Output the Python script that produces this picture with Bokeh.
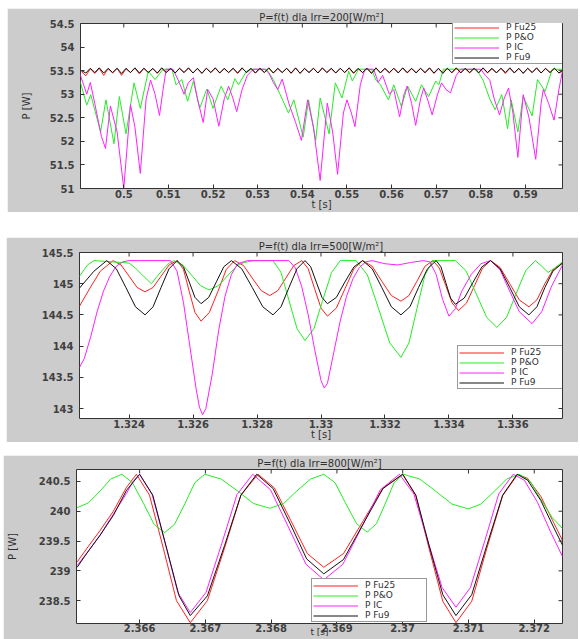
from bokeh.plotting import figure
from bokeh.models import Range1d, FixedTicker, Legend, LegendItem, Spacer
from bokeh.layouts import column
from bokeh.embed import file_html
from bokeh.resources import INLINE
import numpy as np

# ---------------- Panel 1 : Irr = 200 W/m2 ----------------
p1_title = "P=f(t) dla Irr=200[W/m\u00b2]"
p1_xticks = [0.5, 0.51, 0.52, 0.53, 0.54, 0.55, 0.56, 0.57, 0.58, 0.59]
p1_xlabels = ["0.5", "0.51", "0.52", "0.53", "0.54", "0.55", "0.56", "0.57", "0.58", "0.59"]
p1_yticks = [51, 51.5, 52, 52.5, 53, 53.5, 54, 54.5]
p1_ylabels = ["51", "51.5", "52", "52.5", "53", "53.5", "54", "54.5"]
p1_xlim = (0.4903, 0.5983)
p1_ylim = (51.0, 54.5)

# ripple sampling instants (every 1 ms starting at 0.4905 s)
p1_fu9 = [53.50, 53.45, 53.55, 53.46, 53.56, 53.45, 53.55, 53.46, 53.55, 53.44,
          53.55, 53.46, 53.56, 53.45, 53.55, 53.46, 53.55, 53.45, 53.56, 53.46,
          53.55, 53.45, 53.55, 53.46, 53.56, 53.45, 53.55, 53.44, 53.55, 53.46,
          53.56, 53.45, 53.55, 53.46, 53.55, 53.45, 53.56, 53.46, 53.55, 53.45,
          53.55, 53.46, 53.56, 53.45, 53.55, 53.46, 53.55, 53.45, 53.56, 53.44,
          53.55, 53.46, 53.55, 53.45, 53.56, 53.46, 53.55, 53.45, 53.55, 53.46,
          53.56, 53.45, 53.55, 53.46, 53.55, 53.44, 53.56, 53.45, 53.55, 53.46,
          53.55, 53.45, 53.56, 53.46, 53.55, 53.45, 53.55, 53.46, 53.56, 53.45,
          53.55, 53.44, 53.55, 53.46, 53.56, 53.45, 53.55, 53.46, 53.55, 53.45,
          53.56, 53.46, 53.55, 53.45, 53.55, 53.46, 53.56, 53.45, 53.55, 53.44,
          53.55, 53.46, 53.56, 53.45, 53.55, 53.46, 53.55, 53.45, 53.52]
p1_fu25 = [53.48, 53.39, 53.54, 53.44, 53.55, 53.40, 53.54, 53.45, 53.55, 53.40,
           53.54, 53.46, 53.55, 53.43, 53.55, 53.46, 53.54, 53.44, 53.55, 53.46,
           53.54, 53.45, 53.55, 53.46, 53.55, 53.45, 53.54, 53.45, 53.55, 53.46,
           53.55, 53.45, 53.54, 53.46, 53.55, 53.44, 53.55, 53.46, 53.54, 53.45,
           53.55, 53.46, 53.55, 53.45, 53.54, 53.46, 53.55, 53.44, 53.55, 53.45,
           53.54, 53.46, 53.55, 53.45, 53.55, 53.46, 53.54, 53.45, 53.55, 53.46,
           53.55, 53.44, 53.54, 53.46, 53.55, 53.45, 53.55, 53.46, 53.54, 53.45,
           53.55, 53.46, 53.55, 53.45, 53.54, 53.46, 53.55, 53.45, 53.55, 53.44,
           53.54, 53.46, 53.55, 53.45, 53.55, 53.46, 53.54, 53.45, 53.55, 53.46,
           53.55, 53.45, 53.54, 53.46, 53.55, 53.44, 53.55, 53.46, 53.54, 53.45,
           53.55, 53.46, 53.55, 53.45, 53.54, 53.46, 53.55, 53.45, 53.50]
p1_t_ripple = np.linspace(0.4905, 0.4905 + 0.001 * (len(p1_fu9) - 1), len(p1_fu9))

p1_po_t = [0.4901, 0.4917, 0.4926, 0.4948, 0.4960, 0.4978, 0.4990, 0.5005, 0.5023, 0.5037,
           0.5055, 0.5070, 0.5088, 0.5108, 0.5117, 0.5130, 0.5143, 0.5156, 0.5170, 0.5186,
           0.5200, 0.5218, 0.5233, 0.5249, 0.5257, 0.5275, 0.5285, 0.5320, 0.5335, 0.5350,
           0.5369, 0.5381, 0.5402, 0.5414, 0.5430, 0.5440, 0.5460, 0.5474, 0.5489, 0.5504,
           0.5512, 0.5526, 0.5555, 0.5565, 0.5575, 0.5593, 0.5605, 0.5622, 0.5636, 0.5654,
           0.5667, 0.5683, 0.5699, 0.5706, 0.5716, 0.5790, 0.5805, 0.5820, 0.5832, 0.5847,
           0.5860, 0.5868, 0.5883, 0.5895, 0.5915, 0.5927, 0.5944, 0.5960, 0.5983]
p1_po = [53.31, 52.77, 52.99, 52.20, 52.88, 51.95, 52.95, 52.16, 53.24, 52.70,
         53.49, 53.31, 53.53, 53.53, 53.20, 53.31, 52.85, 53.28, 52.70, 53.11,
         52.70, 53.17, 52.88, 53.33, 53.20, 53.49, 53.53, 53.53, 53.31, 53.00,
         52.60, 52.88, 52.09, 52.88, 52.02, 52.92, 52.16, 53.24, 52.92, 53.49,
         53.28, 53.53, 53.53, 53.30, 53.20, 52.88, 53.20, 52.74, 53.17, 52.85,
         53.20, 52.95, 53.28, 53.20, 53.53, 53.53, 53.30, 52.90, 52.67, 52.99,
         52.27, 52.88, 52.20, 52.95, 52.54, 53.31, 53.06, 53.53, 53.53]

p1_ic_t = [0.4901, 0.4910, 0.4917, 0.4925, 0.4935, 0.4950, 0.4959, 0.4970, 0.4985, 0.5000,
           0.5015, 0.5025, 0.5037, 0.5050, 0.5060, 0.5070, 0.5080, 0.5088, 0.5095, 0.5110,
           0.5122, 0.5135, 0.5145, 0.5156, 0.5165, 0.5178, 0.5188, 0.5200, 0.5213, 0.5225,
           0.5235, 0.5245, 0.5253, 0.5265, 0.5277, 0.5290, 0.5315, 0.5325, 0.5335, 0.5345,
           0.5355, 0.5370, 0.5385, 0.5398, 0.5412, 0.5425, 0.5440, 0.5456, 0.5468, 0.5479,
           0.5492, 0.5500, 0.5510, 0.5518, 0.5530, 0.5540, 0.5560, 0.5570, 0.5580, 0.5595,
           0.5605, 0.5618, 0.5628, 0.5635, 0.5645, 0.5654, 0.5665, 0.5672, 0.5682, 0.5691,
           0.5703, 0.5712, 0.5722, 0.5732, 0.5745, 0.5755, 0.5800, 0.5810, 0.5820, 0.5830,
           0.5842, 0.5852, 0.5862, 0.5872, 0.5883, 0.5895, 0.5908, 0.5923, 0.5935, 0.5940,
           0.5952, 0.5964, 0.5975, 0.5983]
p1_ic = [53.45, 53.20, 53.00, 53.25, 52.80, 52.10, 51.85, 52.75, 52.20, 51.00,
         52.78, 52.30, 51.32, 52.90, 53.30, 53.00, 52.55, 53.10, 53.53, 53.53,
         53.30, 53.00, 53.25, 53.35, 52.90, 52.40, 53.10, 52.90, 52.32, 52.90,
         53.17, 52.90, 52.63, 53.10, 53.40, 53.53, 53.53, 53.45, 53.25, 53.10,
         53.32, 52.80, 52.40, 52.02, 52.88, 52.30, 51.17, 52.81, 52.20, 51.30,
         52.60, 52.88, 52.60, 52.31, 53.20, 53.53, 53.53, 53.25, 53.40, 53.00,
         53.10, 52.52, 53.00, 53.17, 52.80, 52.34, 52.90, 53.13, 52.85, 52.56,
         53.00, 53.24, 53.10, 53.03, 53.40, 53.53, 53.53, 53.40, 53.30, 52.90,
         52.56, 52.90, 53.13, 52.60, 51.66, 52.99, 52.50, 51.62, 52.80, 53.10,
         52.80, 52.45, 53.10, 53.50]

# ---------------- Panel 2 : Irr = 500 W/m2 ----------------
p2_title = "P=f(t) dla Irr=500[W/m\u00b2]"
p2_xticks = [1.324, 1.326, 1.328, 1.33, 1.332, 1.334, 1.336]
p2_xlabels = ["1.324", "1.326", "1.328", "1.33", "1.332", "1.334", "1.336"]
p2_yticks = [143, 143.5, 144, 144.5, 145, 145.5]
p2_ylabels = ["143", "143.5", "144", "144.5", "145", "145.5"]
p2_xlim = (1.32245, 1.33755)
p2_ylim = (142.84, 145.5)

p2_fu9_t = [1.32245, 1.3229, 1.3233, 1.3236, 1.3239, 1.3242, 1.3245, 1.32475, 1.3250, 1.32525,
            1.3255, 1.3257, 1.32588, 1.32606, 1.32625, 1.32649, 1.32673, 1.32696, 1.3272, 1.32752,
            1.32785, 1.32818, 1.3285, 1.32875, 1.3290, 1.32925, 1.3295, 1.32968, 1.32985, 1.33003,
            1.3302, 1.33048, 1.33075, 1.33103, 1.3313, 1.3316, 1.3319, 1.3322, 1.3325, 1.33278,
            1.33305, 1.33333, 1.3336, 1.33375, 1.3339, 1.33405, 1.3342, 1.33448, 1.33475, 1.33503,
            1.3353, 1.3356, 1.3359, 1.3362, 1.3365, 1.33675, 1.3370, 1.33725, 1.33755]
p2_fu9 = [144.93, 145.20, 145.37, 145.24, 144.94, 144.63, 144.50, 144.63, 144.94, 145.24,
          145.37, 145.27, 145.03, 144.78, 144.68, 144.78, 145.03, 145.27, 145.37, 145.24,
          144.94, 144.63, 144.50, 144.63, 144.94, 145.24, 145.37, 145.27, 145.03, 144.78,
          144.68, 144.78, 145.03, 145.27, 145.37, 145.24, 144.94, 144.63, 144.50, 144.63,
          144.94, 145.24, 145.37, 145.27, 145.02, 144.77, 144.67, 144.77, 145.02, 145.27,
          145.37, 145.24, 144.94, 144.63, 144.50, 144.63, 144.94, 145.20, 145.33]

p2_fu25_t = [1.32245, 1.3228, 1.3231, 1.3235, 1.32375, 1.3240, 1.32425, 1.3245, 1.32475, 1.3250,
             1.32525, 1.3255, 1.3257, 1.32588, 1.32606, 1.32625, 1.32651, 1.32678, 1.32704, 1.3273,
             1.32758, 1.32785, 1.32813, 1.3284, 1.32865, 1.3289, 1.32915, 1.3294, 1.3296, 1.3298,
             1.3300, 1.3302, 1.33048, 1.33075, 1.33103, 1.3313, 1.3316, 1.3319, 1.3322, 1.3325,
             1.33275, 1.3330, 1.33325, 1.3335, 1.3337, 1.3339, 1.3341, 1.3343, 1.33455, 1.3348,
             1.33505, 1.3353, 1.3356, 1.3359, 1.3362, 1.3365, 1.33675, 1.3370, 1.33725, 1.33755]
p2_fu25 = [144.64, 144.95, 145.20, 145.37, 145.30, 145.12, 144.94, 144.87, 144.94, 145.12,
           145.30, 145.37, 145.23, 144.88, 144.54, 144.40, 144.54, 144.88, 145.23, 145.37,
           145.29, 145.09, 144.89, 144.81, 144.89, 145.09, 145.29, 145.37, 145.24, 144.92,
           144.61, 144.48, 144.61, 144.92, 145.24, 145.37, 145.28, 145.04, 144.81, 144.72,
           144.81, 145.04, 145.28, 145.37, 145.25, 144.97, 144.69, 144.57, 144.69, 144.97,
           145.25, 145.37, 145.26, 145.00, 144.74, 144.63, 144.74, 145.00, 145.22, 145.33]

p2_po_t = [1.32245, 1.3227, 1.3229, 1.3235, 1.3240, 1.3242, 1.32445, 1.3247, 1.32488, 1.3251,
           1.32525, 1.3254, 1.32568, 1.32595, 1.32623, 1.3265, 1.3268, 1.3271, 1.3274, 1.3276,
           1.3279, 1.3285, 1.32875, 1.3290, 1.32925, 1.3295, 1.32978, 1.33005, 1.33033, 1.3306,
           1.3311, 1.33145, 1.3318, 1.33215, 1.3325, 1.33275, 1.3330, 1.33325, 1.3335, 1.3342,
           1.33453, 1.33485, 1.33518, 1.3355, 1.3358, 1.3361, 1.3364, 1.3367, 1.3369, 1.3371,
           1.3373, 1.33755]
p2_po = [145.12, 145.30, 145.37, 145.35, 145.33, 145.25, 145.12, 145.00, 145.12, 145.25,
         145.33, 145.37, 145.30, 145.14, 144.97, 144.90, 144.97, 145.14, 145.30, 145.34,
         145.37, 145.37, 145.18, 144.73, 144.28, 144.09, 144.28, 144.73, 145.18, 145.37,
         145.37, 145.14, 144.60, 144.05, 143.82, 144.05, 144.60, 145.14, 145.37, 145.37,
         145.21, 144.84, 144.46, 144.30, 144.46, 144.84, 145.21, 145.37, 145.28, 145.18,
         145.25, 145.35]

p2_ic_t = [1.32245, 1.3226, 1.3228, 1.3230, 1.3232, 1.3234, 1.3236, 1.3238, 1.3240, 1.3253,
           1.3255, 1.3257, 1.3259, 1.3261, 1.3262, 1.3263, 1.3264, 1.3266, 1.3268, 1.3270,
           1.3272, 1.3274, 1.3277, 1.3290, 1.3292, 1.3294, 1.3296, 1.3298, 1.3300, 1.3301,
           1.3302, 1.3304, 1.3306, 1.3308, 1.3310, 1.3312, 1.3314, 1.3316, 1.3320, 1.3324,
           1.3328, 1.3332, 1.3334, 1.3336, 1.3338, 1.3340, 1.3342, 1.3344, 1.3347, 1.3350,
           1.3353, 1.3356, 1.3359, 1.3362, 1.3366, 1.3369, 1.3372, 1.33755]
p2_ic = [143.66, 143.80, 144.15, 144.55, 144.88, 145.12, 145.28, 145.35, 145.37, 145.37,
         145.20, 144.70, 144.00, 143.30, 143.02, 142.90, 143.00, 143.55, 144.25, 144.80,
         145.15, 145.32, 145.37, 145.37, 145.25, 144.95, 144.50, 143.95, 143.45, 143.33,
         143.40, 143.90, 144.40, 144.80, 145.08, 145.26, 145.35, 145.37, 145.32, 145.30,
         145.34, 145.37, 145.35, 145.15, 144.75, 144.48, 144.60, 144.88, 145.15, 145.32,
         145.37, 145.22, 144.88, 144.55, 144.36, 144.55, 144.95, 145.30]

# ---------------- Panel 3 : Irr = 800 W/m2 ----------------
p3_title = "P=f(t) dla Irr=800[W/m\u00b2]"
p3_xticks = [2.366, 2.367, 2.368, 2.369, 2.37, 2.371, 2.372]
p3_xlabels = ["2.366", "2.367", "2.368", "2.369", "2.37", "2.371", "2.372"]
p3_yticks = [238.5, 239, 239.5, 240, 240.5]
p3_ylabels = ["238.5", "239", "239.5", "240", "240.5"]
p3_xlim = (2.36504, 2.37243)
p3_ylim = (238.117, 240.7)

p3_fu9_t = [2.36505, 2.3652, 2.3654, 2.3656, 2.3658, 2.3660, 2.3662, 2.3664, 2.3666, 2.36677,
            2.36703, 2.36729, 2.36754, 2.36778, 2.36803, 2.36829, 2.36854, 2.3688, 2.3691, 2.3694,
            2.3697, 2.3700, 2.3702, 2.3704, 2.37061, 2.37081, 2.37105, 2.37128, 2.37152, 2.37174,
            2.3719, 2.3721, 2.3723, 2.37243]
p3_fu9 = [239.06, 239.30, 239.60, 239.93, 240.35, 240.62, 240.27, 239.42, 238.58, 238.25,
          238.58, 239.42, 240.27, 240.62, 240.38, 239.79, 239.20, 238.95, 239.19, 239.79,
          240.38, 240.62, 240.27, 239.43, 238.60, 238.25, 238.60, 239.43, 240.27, 240.62,
          240.52, 240.18, 239.72, 239.43]

p3_fu25_t = [2.36505, 2.3652, 2.3654, 2.3656, 2.3658, 2.36595, 2.36615, 2.36636, 2.36656, 2.36677,
             2.36703, 2.36729, 2.36754, 2.3678, 2.36805, 2.3683, 2.36855, 2.3688, 2.3691, 2.3694,
             2.3697, 2.3700, 2.3702, 2.3704, 2.37061, 2.37081, 2.37105, 2.37128, 2.37152, 2.37175,
             2.3719, 2.3721, 2.3723, 2.37243]
p3_fu25 = [239.15, 239.38, 239.68, 240.00, 240.40, 240.62, 240.27, 239.38, 238.50, 238.13,
           238.50, 239.38, 240.27, 240.62, 240.39, 239.84, 239.29, 239.06, 239.29, 239.84,
           240.39, 240.62, 240.26, 239.38, 238.49, 238.13, 238.49, 239.38, 240.26, 240.62,
           240.55, 240.25, 239.80, 239.51]

p3_ic_t = [2.36505, 2.3652, 2.3654, 2.3656, 2.3658, 2.3659, 2.3660, 2.36619, 2.36639, 2.36658,
           2.36677, 2.36701, 2.36725, 2.36748, 2.36772, 2.36799, 2.36826, 2.36853, 2.3688, 2.36909,
           2.36938, 2.36966, 2.36995, 2.37017, 2.37038, 2.3706, 2.37081, 2.37103, 2.37125, 2.37146,
           2.37168, 2.37185, 2.37205, 2.37225, 2.37243]
p3_ic = [239.09, 239.30, 239.60, 239.95, 240.30, 240.50, 240.62, 240.28, 239.46, 238.64,
         238.30, 238.64, 239.46, 240.28, 240.62, 240.36, 239.74, 239.11, 238.85, 239.11,
         239.74, 240.36, 240.62, 240.29, 239.51, 238.72, 238.39, 238.72, 239.51, 240.29,
         240.62, 240.52, 240.15, 239.65, 239.24]

p3_po_t = [2.36505, 2.36522, 2.3654, 2.36556, 2.36573, 2.36589, 2.36606, 2.36622, 2.36638, 2.36653,
           2.36669, 2.36684, 2.36699, 2.36724, 2.36749, 2.36773, 2.36798, 2.36819, 2.36839, 2.3686,
           2.3688, 2.36897, 2.36913, 2.3693, 2.36946, 2.3696, 2.36974, 2.36987, 2.37001, 2.37026,
           2.37051, 2.37075, 2.3710, 2.37119, 2.37139, 2.37158, 2.37177, 2.37194, 2.3721, 2.37227,
           2.37243]
p3_po = [240.06, 240.14, 240.34, 240.54, 240.62, 240.48, 240.13, 239.78, 239.64, 239.78,
         240.13, 240.48, 240.62, 240.54, 240.34, 240.13, 240.05, 240.13, 240.34, 240.54,
         240.62, 240.48, 240.14, 239.79, 239.65, 239.79, 240.14, 240.48, 240.62, 240.54,
         240.33, 240.12, 240.04, 240.12, 240.33, 240.54, 240.62, 240.50, 240.20, 239.90,
         239.71]

series_names = ["P Fu25", "P P&O", "P IC", "P Fu9"]
series_colors = ["#ff2020", "#22ee22", "#ff20ff", "#111111"]

GRAY = "#cccccc"
TXT = "#303030"
FONT = "DejaVu Sans"


def make_panel(w, h, borders, xlim, ylim, xt, xl, yt, yl, title, data, legend_xy,
               ylabel=True, ylab_standoff=10, xlab_standoff=-2, xtick_standoff=1,
               xlab_size="10px", title_standoff=2, left_margin=0):
    left, right, top, bottom = borders
    p = figure(width=w, height=h, x_range=Range1d(*xlim), y_range=Range1d(*ylim),
               output_backend="svg", toolbar_location=None,
               min_border_left=left, min_border_right=right,
               min_border_top=top, min_border_bottom=bottom,
               background_fill_color="white", border_fill_color=GRAY,
               outline_line_color="#333333", outline_line_width=1,
               margin=(0, 0, 0, left_margin))
    p.title.text = title
    p.title.align = "center"
    p.title.text_font = FONT
    p.title.text_font_size = "10px"
    p.title.text_font_style = "normal"
    p.title.text_color = TXT
    p.title.standoff = title_standoff
    p.title.offset = 0
    p.xgrid.visible = False
    p.ygrid.visible = False

    xa = p.xaxis[0]
    ya = p.yaxis[0]
    xa.ticker = FixedTicker(ticks=xt)
    xa.major_label_overrides = dict(zip(xt, xl))
    ya.ticker = FixedTicker(ticks=yt)
    ya.major_label_overrides = dict(zip(yt, yl))
    xa.axis_label = "t [s]"
    if ylabel:
        ya.axis_label = "P [W]"
    for ax in (xa, ya):
        ax.major_tick_in = 4
        ax.major_tick_out = 0
        ax.major_tick_line_color = "#333333"
        ax.minor_tick_line_color = None
        ax.axis_line_color = None
        ax.major_label_text_font = FONT
        ax.major_label_text_font_size = "10px"
        ax.major_label_text_font_style = "bold"
        ax.major_label_text_color = "#404040"
        ax.axis_label_text_font = FONT
        ax.axis_label_text_font_size = "10px"
        ax.axis_label_text_font_style = "normal"
        ax.axis_label_text_color = TXT
    xa.axis_label_text_font_size = xlab_size
    xa.major_label_standoff = xtick_standoff
    xa.axis_label_standoff = xlab_standoff
    ya.major_label_standoff = 6
    ya.axis_label_standoff = ylab_standoff

    rends = []
    for (tx, vy), col in zip(data, series_colors):
        r = p.line(tx, vy, line_color=col, line_width=1)
        rends.append(r)

    # MATLAB-style inward ticks on the top and right edges of the box
    p.scatter(xt, [ylim[1]] * len(xt), marker="dash", size=8, angle=np.pi / 2,
              line_color="#333333", line_width=1)
    p.scatter([xlim[1]] * len(yt), yt, marker="dash", size=8,
              line_color="#333333", line_width=1)

    items = [LegendItem(label=n, renderers=[r]) for n, r in zip(series_names, rends)]
    leg = Legend(items=items, location=legend_xy, margin=0, padding=1, spacing=-1,
                 glyph_width=45, glyph_height=9, label_height=9, label_width=60,
                 label_standoff=7, label_text_font=FONT, label_text_font_size="9px",
                 label_text_color=TXT, border_line_color="#333333", border_line_width=1,
                 background_fill_color="white", background_fill_alpha=1.0)
    p.add_layout(leg)
    return p


p1 = make_panel(571, 204, (63, 16, 15, 18), p1_xlim, p1_ylim, p1_xticks, p1_xlabels,
                p1_yticks, p1_ylabels, p1_title,
                [(p1_t_ripple, p1_fu25), (p1_po_t, p1_po), (p1_ic_t, p1_ic),
                 (p1_t_ripple, p1_fu9)], (372, 124), ylab_standoff=15, left_margin=4)
p2 = make_panel(572, 205, (55, 10, 14, 18), p2_xlim, p2_ylim, p2_xticks, p2_xlabels,
                p2_yticks, p2_ylabels, p2_title,
                [(p2_fu25_t, p2_fu25), (p2_po_t, p2_po), (p2_ic_t, p2_ic),
                 (p2_fu9_t, p2_fu9)], (378, 29), ylabel=False, ylab_standoff=0,
                left_margin=3)
p3 = make_panel(575, 184, (70, 10, 13, 16), p3_xlim, p3_ylim, p3_xticks, p3_xlabels,
                p3_yticks, p3_ylabels, p3_title,
                [(p3_fu25_t, p3_fu25), (p3_po_t, p3_po), (p3_ic_t, p3_ic),
                 (p3_fu9_t, p3_fu9)], (235, 1), ylab_standoff=18, xlab_standoff=-8,
                xtick_standoff=0, xlab_size="9px", title_standoff=1)

layout = column(p1, Spacer(width=570, height=25), p2, Spacer(width=570, height=13), p3,
                spacing=0, margin=(8, 0, 0, 3))
open("out.html", "w").write(file_html(layout, INLINE))
